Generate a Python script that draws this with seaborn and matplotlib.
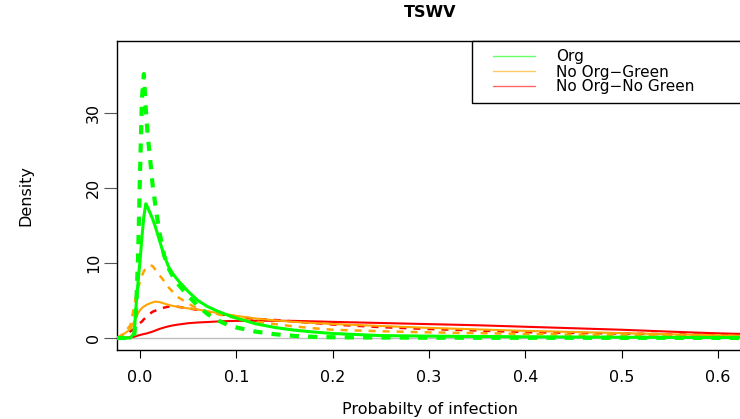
import seaborn as sns
import matplotlib.pyplot as plt
import pandas as pd
from matplotlib.lines import Line2D
from matplotlib.patches import Rectangle

# densities (probability of infection -> density)
prob = [-0.024, -0.02, -0.015, -0.01, -0.006, -0.004, -0.002, 0.0, 0.002, 0.004,
        0.006, 0.008, 0.01, 0.013, 0.016, 0.02, 0.025, 0.03, 0.035, 0.04,
        0.05, 0.06, 0.07, 0.08, 0.09, 0.1, 0.12, 0.14, 0.16, 0.18,
        0.2, 0.25, 0.3, 0.35, 0.4, 0.45, 0.5, 0.55, 0.6, 0.65]

org_solid = [0, 0, 0, 0, 0.7, 4.4, 7.6, 10.3, 13.5, 16.2,
             17.9, 17.4, 16.8, 15.9, 14.8, 13.1, 11.0, 9.4, 8.4, 7.6,
             6.2, 5.0, 4.2, 3.6, 3.1, 2.65, 1.9, 1.4, 1.05, 0.8,
             0.6, 0.32, 0.25, 0.2, 0.16, 0.13, 0.1, 0.08, 0.06, 0.05]
org_dash = [0, 0, 0, 0, 0.2, 4.0, 11.0, 22.0, 32.0, 35.2,
            30.5, 27.0, 24.5, 20.5, 17.6, 14.2, 11.0, 9.2, 8.0, 7.1,
            5.6, 4.3, 3.2, 2.4, 1.8, 1.4, 0.85, 0.5, 0.28, 0.15,
            0.1, 0.06, 0.04, 0.03, 0.03, 0.02, 0.02, 0.02, 0.01, 0.01]

green_solid = [0, 0.3, 0.7, 1.2, 2.2, 2.8, 3.3, 3.7, 4.0, 4.2,
               4.35, 4.5, 4.6, 4.75, 4.85, 4.8, 4.6, 4.4, 4.25, 4.15,
               3.95, 3.8, 3.55, 3.35, 3.15, 2.95, 2.6, 2.35, 2.15, 2.0,
               1.87, 1.6, 1.35, 1.15, 0.95, 0.8, 0.65, 0.5, 0.35, 0.25]
green_dash = [0, 0.3, 0.9, 1.7, 4.3, 5.7, 6.7, 7.5, 8.3, 8.9,
              9.3, 9.55, 9.7, 9.6, 9.1, 8.4, 7.6, 6.7, 6.0, 5.4,
              4.6, 3.9, 3.5, 3.2, 2.9, 2.65, 2.2, 1.85, 1.55, 1.3,
              1.1, 0.9, 0.75, 0.65, 0.55, 0.45, 0.37, 0.3, 0.22, 0.15]

nogreen_solid = [0, 0.02, 0.05, 0.1, 0.17, 0.25, 0.33, 0.4, 0.47, 0.53,
                 0.58, 0.65, 0.73, 0.85, 1.0, 1.2, 1.4, 1.57, 1.7, 1.8,
                 1.97, 2.07, 2.13, 2.2, 2.25, 2.28, 2.3, 2.3, 2.28, 2.22,
                 2.15, 2.0, 1.85, 1.7, 1.5, 1.3, 1.1, 0.85, 0.62, 0.45]
nogreen_dash = [0, 0.15, 0.45, 0.9, 1.2, 1.45, 1.8, 2.0, 2.2, 2.5,
                2.7, 2.95, 3.2, 3.5, 3.65, 3.9, 4.05, 4.2, 4.2, 4.15,
                3.95, 3.75, 3.5, 3.25, 3.05, 2.85, 2.55, 2.4, 2.2, 2.0,
                1.8, 1.45, 1.2, 1.0, 0.78, 0.68, 0.6, 0.5, 0.42, 0.35]

groups = ["Org", "No Org\u2212Green", "No Org\u2212No Green"]
colors = ["#00FF00", "#FFA500", "#FF0000"]

curves = pd.DataFrame({"prob": prob,
                       "org_solid": org_solid, "org_dash": org_dash,
                       "green_solid": green_solid, "green_dash": green_dash,
                       "nogreen_solid": nogreen_solid, "nogreen_dash": nogreen_dash})

sns.set_style("ticks")
plt.rcParams['font.family'] = ['DejaVu Sans']
plt.rcParams['text.color'] = 'black'
plt.rcParams['axes.labelcolor'] = 'black'
plt.rcParams['xtick.color'] = 'black'
plt.rcParams['ytick.color'] = 'black'

fig = plt.figure(figsize=(7.4, 4.19), dpi=100)
ax = fig.add_axes([117/740, 69/419, 626/740, 309/419])

ax.axhline(0, color="#BEBEBE", lw=1, zorder=1)

# (column, colour, width, dashed)
styles = [("nogreen_solid", colors[2], 1.5, False),
          ("nogreen_dash", colors[2], 1.8, True),
          ("green_solid", colors[1], 1.5, False),
          ("green_dash", colors[1], 1.8, True),
          ("org_solid", colors[0], 2.2, False),
          ("org_dash", colors[0], 3.0, True)]
for col, c, lw, dashed in styles:
    line = sns.lineplot(data=curves, x="prob", y=col, ax=ax, color=c, lw=lw,
                        estimator=None, sort=False, zorder=3).lines[-1]
    if dashed:
        line.set_dashes((2.8, 2.8) if lw < 2.5 else (2.2, 2.2))

ax.set_xlim(-0.0239, 0.626)
ax.set_ylim(-1.6, 39.6)
ax.set_xticks([0.0, 0.1, 0.2, 0.3, 0.4, 0.5, 0.6])
ax.set_xticklabels(["0.0", "0.1", "0.2", "0.3", "0.4", "0.5", "0.6"])
ax.set_yticks([0, 10, 20, 30])
ax.tick_params(axis="x", length=5.5, width=0.8, pad=9, labelsize=11.5)
ax.tick_params(axis="y", length=9.5, width=0.8, pad=2, labelsize=11.5, color="#555555",
               labelcolor="black", labelrotation=90)
for lab in ax.get_yticklabels():
    lab.set_va("center")

for s in ax.spines.values():
    s.set_color("black")
    s.set_linewidth(1.0)

ax.set_xlabel("Probabilty of infection", fontsize=11.5, labelpad=12)
ax.set_ylabel("Density", fontsize=11.5, labelpad=38)
fig.text(430/740, 1 - 12.5/419, "TSWV", ha="center", va="center",
         fontsize=11.5, fontweight="bold")

# legend box
fig.patches.append(Rectangle((472/740, 1 - 103/419), 0.5, 62/419, transform=fig.transFigure,
                             facecolor="white", edgecolor="black", lw=1.0, zorder=5))
handles = [Line2D([], [], color=c, lw=1.0, alpha=0.6) for c in colors]
leg = fig.legend(handles, groups, loc="upper left", bbox_to_anchor=(493/740, 1 - 49.5/419),
                 bbox_transform=fig.transFigure, frameon=False, fontsize=11,
                 borderpad=0, borderaxespad=0, handlelength=2.75, handletextpad=1.4,
                 labelspacing=0.0)
leg.set_zorder(6)

fig.savefig("out.png", dpi=100)
